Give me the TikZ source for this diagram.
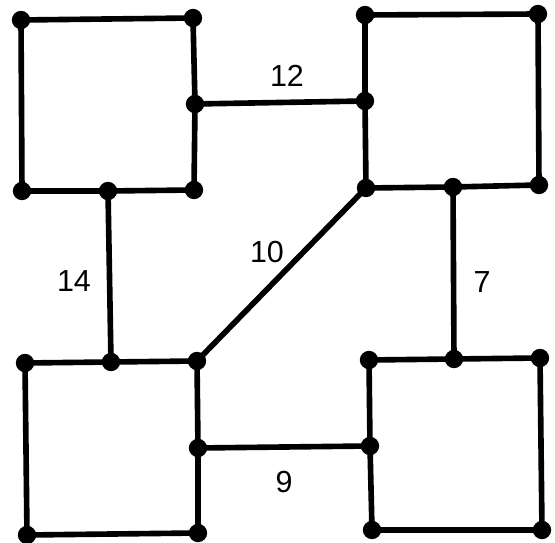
\documentclass[tikz,border=0pt]{standalone}
\usepackage{fontspec}
\setmainfont{Liberation Sans}
\usetikzlibrary{positioning}

\tikzset{
  dot/.style={circle, fill=black, inner sep=0pt, minimum size=0.55cm},
  edge/.style={line width=4.8pt, line cap=round, line join=round},
  weight/.style={font=\fontsize{26}{31}\selectfont}
}

\begin{document}
\begin{tikzpicture}[x=0.03cm, y=-0.03cm]
  \useasboundingbox (0,0) rectangle (555,543);
  % top left square
  \coordinate (a1) at (21,20);  \coordinate (a2) at (193,18);
  \coordinate (a3) at (195,104); \coordinate (a4) at (194,190);
  \coordinate (a5) at (108,191); \coordinate (a6) at (22,191);
  % top right square
  \coordinate (b1) at (365,15);  \coordinate (b2) at (538,14);
  \coordinate (b3) at (539,185); \coordinate (b4) at (453,187);
  \coordinate (b5) at (366,188); \coordinate (b6) at (365,101);
  % bottom left square
  \coordinate (c1) at (25,363);  \coordinate (c2) at (111,362);
  \coordinate (c3) at (197,361); \coordinate (c4) at (198,448);
  \coordinate (c5) at (198,533); \coordinate (c6) at (27,535);
  % bottom right square
  \coordinate (d1) at (369,360); \coordinate (d2) at (454,359);
  \coordinate (d3) at (540,358); \coordinate (d4) at (542,530);
  \coordinate (d5) at (372,530); \coordinate (d6) at (370,446);

  \draw[edge] (a1) -- (a2) -- (a3) -- (a4) -- (a5) -- (a6) -- cycle;
  \draw[edge] (b1) -- (b2) -- (b3) -- (b4) -- (b5) -- (b6) -- cycle;
  \draw[edge] (c1) -- (c2) -- (c3) -- (c4) -- (c5) -- (c6) -- cycle;
  \draw[edge] (d1) -- (d2) -- (d3) -- (d4) -- (d5) -- (d6) -- cycle;

  % links between squares
  \draw[edge] (a3) -- (b6);
  \draw[edge] (a5) -- (c2);
  \draw[edge] (b5) -- (c3);
  \draw[edge] (b4) -- (d2);
  \draw[edge] (c4) -- (d6);

  \foreach \p in {a1,a2,a3,a4,a5,a6,b1,b2,b3,b4,b5,b6,
                  c1,c2,c3,c4,c5,c6,d1,d2,d3,d4,d5,d6}
    \node[dot] (n\p) at (\p) {};

  \node[weight] (w12) at (287,76)  {12};
  \node[weight] (w14) at (74,281)  {14};
  \node[weight] (w10) at (267,252) {10};
  \node[weight] (w7)  at (482,282) {7};
  \node[weight] (w9)  at (284,482) {9};
\end{tikzpicture}
\end{document}
